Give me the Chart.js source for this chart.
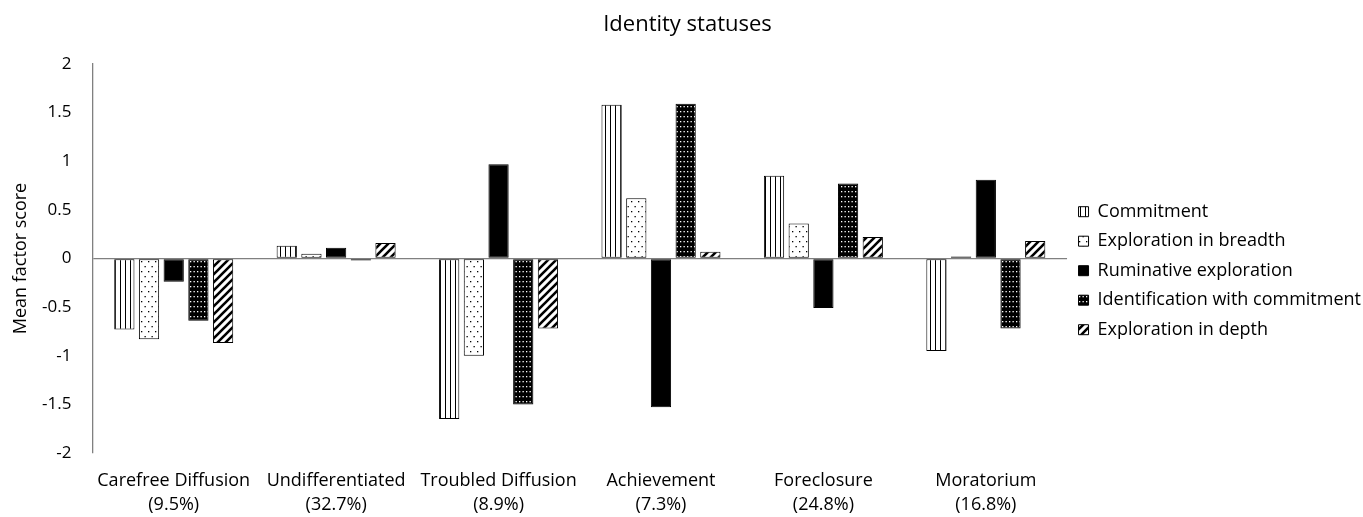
<!DOCTYPE html>
<html>
<head>
<meta charset="utf-8">
<script src="https://cdn.jsdelivr.net/npm/chart.js"></script>
<style>
  html, body { margin: 0; padding: 0; background: #fff; }
  #wrap { width: 1363px; height: 517px; }
</style>
</head>
<body>
<div id="wrap"><canvas id="chart" width="1363" height="517"></canvas></div>
<script>
// categories (two-line labels)
var statuses = [
  ['Carefree Diffusion', '(9.5%)'],
  ['Undifferentiated', '(32.7%)'],
  ['Troubled Diffusion', '(8.9%)'],
  ['Achievement', '(7.3%)'],
  ['Foreclosure', '(24.8%)'],
  ['Moratorium', '(16.8%)']
];

var commitment     = [-0.73, 0.13, -1.65, 1.58, 0.85, -0.95];
var breadth        = [-0.83, 0.05, -1.00, 0.62, 0.36, 0.02];
var ruminative     = [-0.24, 0.11, 0.97, -1.53, -0.51, 0.81];
var identification = [-0.64, -0.02, -1.50, 1.59, 0.77, -0.72];
var depth          = [-0.87, 0.16, -0.72, 0.07, 0.22, 0.18];

var seriesNames = ['Commitment', 'Exploration in breadth', 'Ruminative exploration',
  'Identification with commitment', 'Exploration in depth'];

var FONT = '"Open Sans", Lato, sans-serif';

// little pattern tiles
function tile(w, h, draw) {
  var c = document.createElement('canvas');
  c.width = w; c.height = h;
  var g = c.getContext('2d');
  draw(g, w, h);
  return document.getElementById('chart').getContext('2d').createPattern(c, 'repeat');
}

var vlines = tile(5, 4, function (g, w, h) {
  g.fillStyle = '#fff'; g.fillRect(0, 0, w, h);
  g.fillStyle = '#000'; g.fillRect(0, 0, 1, h);
});
var dotsWhite = tile(7, 10, function (g, w, h) {
  g.fillStyle = '#fff'; g.fillRect(0, 0, w, h);
  g.fillStyle = '#000';
  g.fillRect(1, 1, 1.3, 1.3);
  g.fillRect(4.5, 6, 1.3, 1.3);
});
var dotsBlack = tile(7, 5, function (g, w, h) {
  g.fillStyle = '#000'; g.fillRect(0, 0, w, h);
  g.fillStyle = '#fff';
  g.fillRect(1, 1, 1.3, 1.3);
  g.fillRect(4.5, 1, 1.3, 1.3);
});
var diag = tile(8, 8, function (g, w, h) {
  g.fillStyle = '#fff'; g.fillRect(0, 0, w, h);
  g.strokeStyle = '#000'; g.lineWidth = 2.6;
  g.beginPath();
  g.moveTo(-2, 10); g.lineTo(10, -2);
  g.moveTo(-2, 2); g.lineTo(2, -2);
  g.moveTo(6, 10); g.lineTo(10, 6);
  g.stroke();
});

var fills = [vlines, dotsWhite, '#000', dotsBlack, diag];
var values = [commitment, breadth, ruminative, identification, depth];

var datasets = [];
for (var i = 0; i < seriesNames.length; i++) {
  datasets.push({
    label: seriesNames[i],
    data: values[i],
    backgroundColor: fills[i],
    borderColor: '#000',
    borderWidth: 1,
    borderSkipped: false,
    categoryPercentage: 0.76,
    barPercentage: 0.82
  });
}

var ctx = document.getElementById('chart').getContext('2d');
var chart = new Chart(ctx, {
  type: 'bar',
  data: { labels: statuses, datasets: datasets },
  options: {
    responsive: false,
    animation: false,
    layout: { padding: { left: 4, right: -8, top: 0, bottom: 0 } },
    plugins: {
      title: {
        display: true,
        text: 'Identity statuses',
        color: '#000',
        font: { family: FONT, size: 22, weight: 'normal' },
        padding: { top: 12, bottom: 25.6 }
      },
      legend: {
        position: 'right',
        title: { display: true, text: ' ', font: { size: 12 }, padding: 5 },
        labels: {
          color: '#000',
          font: { family: FONT, size: 18 },
          boxWidth: 10,
          boxHeight: 10,
          padding: 11.5
        }
      },
      tooltip: { enabled: false }
    },
    scales: {
      x: {
        grid: { display: false, drawTicks: false },
        border: { display: false },
        ticks: { color: '#000', font: { family: FONT, size: 18, lineHeight: 1.333 }, padding: 16, maxRotation: 0 },
        afterFit: function (s) { s.height = 64; }
      },
      y: {
        min: -2,
        max: 2,
        ticks: {
          stepSize: 0.5, color: '#000', font: { family: FONT, size: 17 }, padding: 21,
          callback: function (v) { return String(v); }
        },
        grid: {
          drawTicks: false,
          color: function (c) { return c.tick && c.tick.value === 0 ? '#808080' : 'rgba(0,0,0,0)'; },
          lineWidth: 1.3
        },
        border: { display: true, color: '#808080', width: 1.3 },
        title: {
          display: true,
          text: 'Mean factor score',
          color: '#000',
          font: { family: FONT, size: 18 },
          padding: { top: 6, bottom: 4 }
        },
        afterFit: function (s) { s.width = 88.5; }
      }
    }
  }
});
</script>
</body>
</html>
